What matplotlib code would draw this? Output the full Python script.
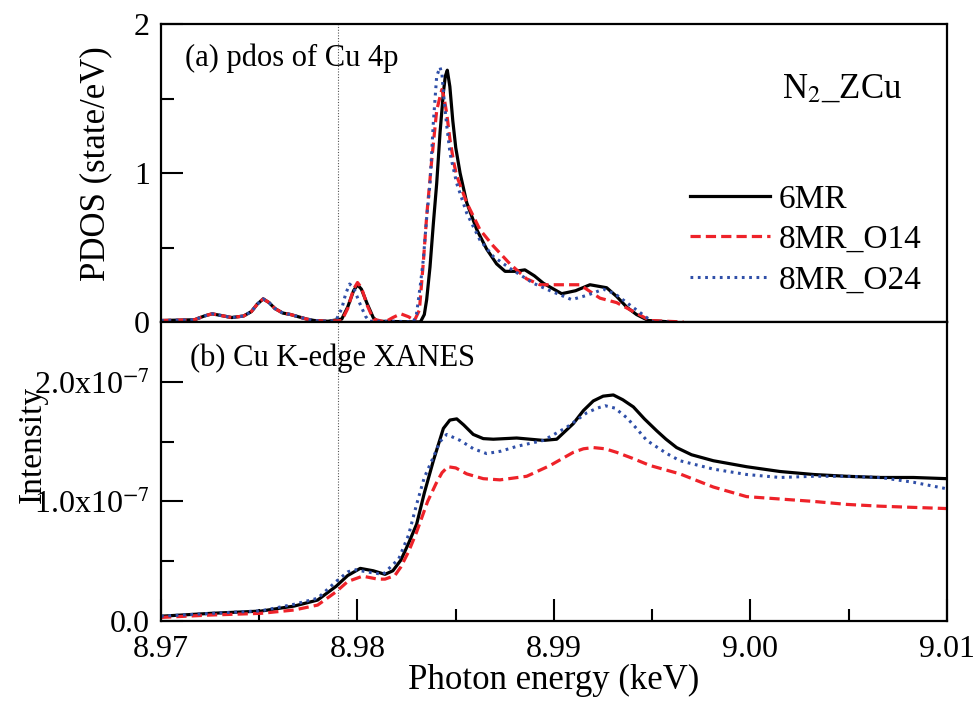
import matplotlib
matplotlib.use("Agg")
import matplotlib.pyplot as plt
from matplotlib.ticker import MultipleLocator, FixedLocator

plt.rcParams["font.family"] = ["Liberation Serif", "DejaVu Serif"]
plt.rcParams["mathtext.fontset"] = "stix"

# ---- (a) PDOS of Cu 4p, energies in keV, PDOS in state/eV ----
e_low = [8.9700, 8.9717, 8.9722, 8.9726, 8.9730, 8.9736, 8.9742, 8.9746, 8.9749,
         8.9752, 8.9755, 8.9758, 8.9762, 8.9766, 8.9770, 8.9774, 8.9778, 8.9785]
pdos_low = [0.01, 0.015, 0.04, 0.055, 0.045, 0.03, 0.04, 0.07, 0.12,
            0.155, 0.13, 0.09, 0.06, 0.05, 0.035, 0.02, 0.01, 0.005]

e_pdos_6mr = e_low + [8.9792, 8.9795, 8.9798, 8.9800, 8.9802, 8.9805, 8.9808, 8.9810,
                      8.9832, 8.98340, 8.98352, 8.98369, 8.98386, 8.98403, 8.98420,
                      8.98437, 8.98447, 8.98457, 8.98470, 8.98485, 8.98500, 8.98522,
                      8.98556, 8.98607, 8.98657, 8.98708, 8.98751, 8.98800, 8.98852,
                      8.98900, 8.98946, 8.99039, 8.99110, 8.99183, 8.99268, 8.99320,
                      8.99370, 8.99420, 8.99480, 8.99600]
pdos_6mr = pdos_low + [0.02, 0.10, 0.21, 0.25, 0.22, 0.12, 0.03, 0.005,
                       0.0, 0.05, 0.15, 0.37, 0.66, 0.93, 1.27,
                       1.54, 1.65, 1.69, 1.58, 1.35, 1.17, 1.00,
                       0.80, 0.62, 0.49, 0.39, 0.34, 0.34, 0.35,
                       0.31, 0.26, 0.19, 0.21, 0.25, 0.23, 0.17,
                       0.10, 0.05, 0.01, 0.0]

e_pdos_o14 = e_low + [8.9792, 8.9795, 8.9798, 8.9800, 8.9802, 8.9805, 8.9808, 8.9814,
                      8.9818, 8.9822, 8.9826, 8.9829, 8.98315, 8.98335, 8.98352,
                      8.98378, 8.98403, 8.98429, 8.98440, 8.98454, 8.98471, 8.98490,
                      8.98505, 8.98556, 8.98623, 8.98691, 8.98776, 8.98860, 8.98929,
                      8.99014, 8.99132, 8.99234, 8.99319, 8.99404, 8.99489, 8.99660]
pdos_o14 = pdos_low + [0.01, 0.09, 0.22, 0.265, 0.23, 0.11, 0.02, 0.0,
                       0.03, 0.055, 0.035, 0.01, 0.08, 0.40, 0.71,
                       1.09, 1.42, 1.56, 1.51, 1.40, 1.22, 1.07,
                       0.98, 0.80, 0.62, 0.51, 0.39, 0.29, 0.25,
                       0.25, 0.25, 0.16, 0.13, 0.07, 0.01, 0.0]

e_pdos_o24 = e_low + [8.9789, 8.9792, 8.9794, 8.9796, 8.9798, 8.9801, 8.9804, 8.9806,
                      8.9820, 8.98284, 8.98300, 8.98320, 8.98335, 8.98352, 8.98369,
                      8.98386, 8.98403, 8.98420, 8.98430, 8.98440, 8.98454, 8.98471,
                      8.98505, 8.98556, 8.98623, 8.98691, 8.98776, 8.98895, 8.98980,
                      8.99090, 8.99170, 8.99251, 8.99310, 8.99370, 8.99472, 8.99505,
                      8.99600]
pdos_o24 = pdos_low + [0.01, 0.09, 0.19, 0.255, 0.23, 0.13, 0.04, 0.005,
                       0.005, 0.0, 0.05, 0.25, 0.42, 0.70, 0.93,
                       1.34, 1.65, 1.71, 1.66, 1.50, 1.32, 1.13,
                       0.93, 0.73, 0.55, 0.44, 0.36, 0.26, 0.21,
                       0.15, 0.18, 0.22, 0.19, 0.13, 0.03, 0.0,
                       0.0]

# ---- (b) Cu K-edge XANES, intensity in units of 1e-7 ----
e_xan_6mr = [8.9700, 8.97254, 8.97509, 8.97678, 8.97797, 8.97891, 8.97950, 8.98014,
             8.98080, 8.98140, 8.98180, 8.98221, 8.98260, 8.98301, 8.98340, 8.98386,
             8.98437, 8.98470, 8.98505, 8.98540, 8.98589, 8.98640, 8.98691, 8.98810,
             8.98946, 8.99014, 8.99098, 8.99150, 8.99200, 8.99250, 8.99302, 8.99350,
             8.99404, 8.99460, 8.99523, 8.99570, 8.99624, 8.99700, 8.99811, 8.99980,
             9.00150, 9.00320, 9.00489, 9.00659, 9.00829, 9.01000]
xan_6mr = [0.04, 0.064, 0.083, 0.125, 0.175, 0.29, 0.38, 0.44,
           0.42, 0.39, 0.42, 0.51, 0.65, 0.81, 1.07, 1.34,
           1.61, 1.68, 1.69, 1.64, 1.56, 1.525, 1.52, 1.53,
           1.51, 1.52, 1.65, 1.76, 1.84, 1.88, 1.89, 1.85,
           1.79, 1.69, 1.59, 1.52, 1.45, 1.39, 1.34, 1.29,
           1.25, 1.225, 1.21, 1.20, 1.20, 1.19]

e_xan_o14 = [8.9700, 8.97254, 8.97509, 8.97678, 8.97797, 8.97891, 8.97950, 8.98026,
             8.98103, 8.98140, 8.98190, 8.98220, 8.98260, 8.98300, 8.98357, 8.98400,
             8.98430, 8.98460, 8.98500, 8.98556, 8.98640, 8.98725, 8.98861, 8.98980,
             8.99098, 8.99150, 8.99200, 8.99260, 8.99319, 8.99400, 8.99489, 8.99641,
             8.99811, 8.99980, 9.00150, 9.00320, 9.00489, 9.00659, 9.00829, 9.01000]
xan_o14 = [0.03, 0.05, 0.064, 0.092, 0.133, 0.244, 0.33, 0.375,
           0.35, 0.35, 0.38, 0.45, 0.58, 0.74, 1.0, 1.15,
           1.24, 1.29, 1.28, 1.23, 1.19, 1.18, 1.21, 1.30,
           1.41, 1.44, 1.45, 1.44, 1.41, 1.36, 1.30, 1.23,
           1.12, 1.04, 1.02, 1.00, 0.975, 0.96, 0.95, 0.94]

e_xan_o24 = [8.9700, 8.97254, 8.97509, 8.97678, 8.97797, 8.97891, 8.97950, 8.97984,
             8.98050, 8.98130, 8.98210, 8.98260, 8.98300, 8.98340, 8.98386, 8.98420,
             8.98454, 8.98522, 8.98590, 8.98657, 8.98730, 8.98810, 8.98946, 8.99065,
             8.99166, 8.99220, 8.99260, 8.99310, 8.99370, 8.99420, 8.99472, 8.99574,
             8.99641, 8.99811, 8.99980, 9.00150, 9.00320, 9.00489, 9.00659, 9.00829,
             9.01000]
xan_o24 = [0.04, 0.064, 0.085, 0.14, 0.19, 0.33, 0.41, 0.43,
           0.41, 0.39, 0.52, 0.72, 0.97, 1.20, 1.37, 1.50,
           1.56, 1.51, 1.44, 1.40, 1.42, 1.46, 1.51, 1.62,
           1.74, 1.78, 1.80, 1.78, 1.70, 1.61, 1.51, 1.40,
           1.34, 1.27, 1.225, 1.20, 1.21, 1.21, 1.20, 1.16,
           1.105]

labels = ["6MR", "8MR_O14", "8MR_O24"]
x_ticks = [8.97, 8.98, 8.99, 9.00, 9.01]
x_ticklabels = ["8.97", "8.98", "8.99", "9.00", "9.01"]
xan_ticks = [0.0, 1.0e-7, 2.0e-7]
xan_ticklabels = ["0.0", "1.0x10$^{-7}$", "2.0x10$^{-7}$"]
edge_line = 8.9790

SCALE = 1e-7
styles = [
    dict(color="black", lw=2.3, linestyle="-"),
    dict(color="#ee2229", lw=2.3, linestyle=(0, (3.2, 1.6))),
    dict(color="#2f4fa8", lw=2.2, linestyle=(0, (0.9, 1.5))),
]

fig = plt.figure(figsize=(9.79, 7.01), dpi=100)
L, R = 161 / 979, 947 / 979
ax1 = fig.add_axes([L, 1 - 322 / 701, R - L, 298 / 701])
ax2 = fig.add_axes([L, 1 - 621 / 701, R - L, 299 / 701], sharex=ax1)

pdos_sets = [(e_pdos_6mr, pdos_6mr), (e_pdos_o14, pdos_o14), (e_pdos_o24, pdos_o24)]
xan_sets = [(e_xan_6mr, xan_6mr), (e_xan_o14, xan_o14), (e_xan_o24, xan_o24)]

for (e, v), st, lab in zip(pdos_sets, styles, labels):
    ax1.plot(e, v, label=lab, **st)
for (e, v), st in zip(xan_sets, styles):
    ax2.plot(e, [y * SCALE for y in v], **st)

for ax in (ax1, ax2):
    ax.axvline(edge_line, color="#555555", lw=0.8, linestyle=(0, (1, 1.5)), zorder=0)
    for sp in ax.spines.values():
        sp.set_linewidth(1.6)
    ax.tick_params(axis="y", which="both", direction="in", left=True, right=False,
                   labelsize=23, width=1.5, pad=8)
    ax.tick_params(axis="y", which="major", length=16)
    ax.tick_params(axis="y", which="minor", length=9)

ax1.set_xlim(8.97, 9.01)
ax1.set_ylim(0, 2)
ax1.yaxis.set_major_locator(FixedLocator([0, 1, 2]))
ax1.yaxis.set_minor_locator(FixedLocator([0.5, 1.5]))
ax1.set_yticklabels(["0", "1", "2"])
ax1.tick_params(axis="x", which="both", bottom=False, top=False, labelbottom=False)
ax1.set_ylabel("PDOS (state/eV)", fontsize=25)
ax1.yaxis.set_label_coords(-0.062, 0.53)

ax2.set_ylim(0, 2.5e-7)
ax2.yaxis.set_major_locator(FixedLocator(xan_ticks))
ax2.yaxis.set_minor_locator(FixedLocator([0.5e-7, 1.5e-7]))
ax2.set_yticklabels(xan_ticklabels)
ax2.set_xticks(x_ticks)
ax2.set_xticklabels(x_ticklabels)
ax2.xaxis.set_minor_locator(MultipleLocator(0.005))
ax2.tick_params(axis="x", which="both", direction="in", bottom=True, top=False,
                labelsize=23, width=1.5, pad=10)
ax2.tick_params(axis="x", which="major", length=16)
ax2.tick_params(axis="x", which="minor", length=9)
ax2.set_xlabel("Photon energy (keV)", fontsize=25, labelpad=0)
ax2.set_ylabel("Intensity", fontsize=24)
ax2.yaxis.set_label_coords(-0.144, 0.59)

ax1.text(0.031, 0.885, "(a) pdos of Cu 4p", transform=ax1.transAxes,
         fontsize=22, va="center", ha="left")
ax2.text(0.037, 0.88, "(b) Cu K-edge XANES", transform=ax2.transAxes,
         fontsize=22, va="center", ha="left")
ax1.text(0.79, 0.78, "N$_2$_ZCu", transform=ax1.transAxes,
         fontsize=25, va="center", ha="left")

ax1.legend(loc="upper left", bbox_to_anchor=(0.673, 0.463), frameon=False,
           fontsize=24, handlelength=2.4, handletextpad=0.27, labelspacing=0.3,
           borderpad=0, borderaxespad=0)

fig.savefig("out.png", dpi=100)
